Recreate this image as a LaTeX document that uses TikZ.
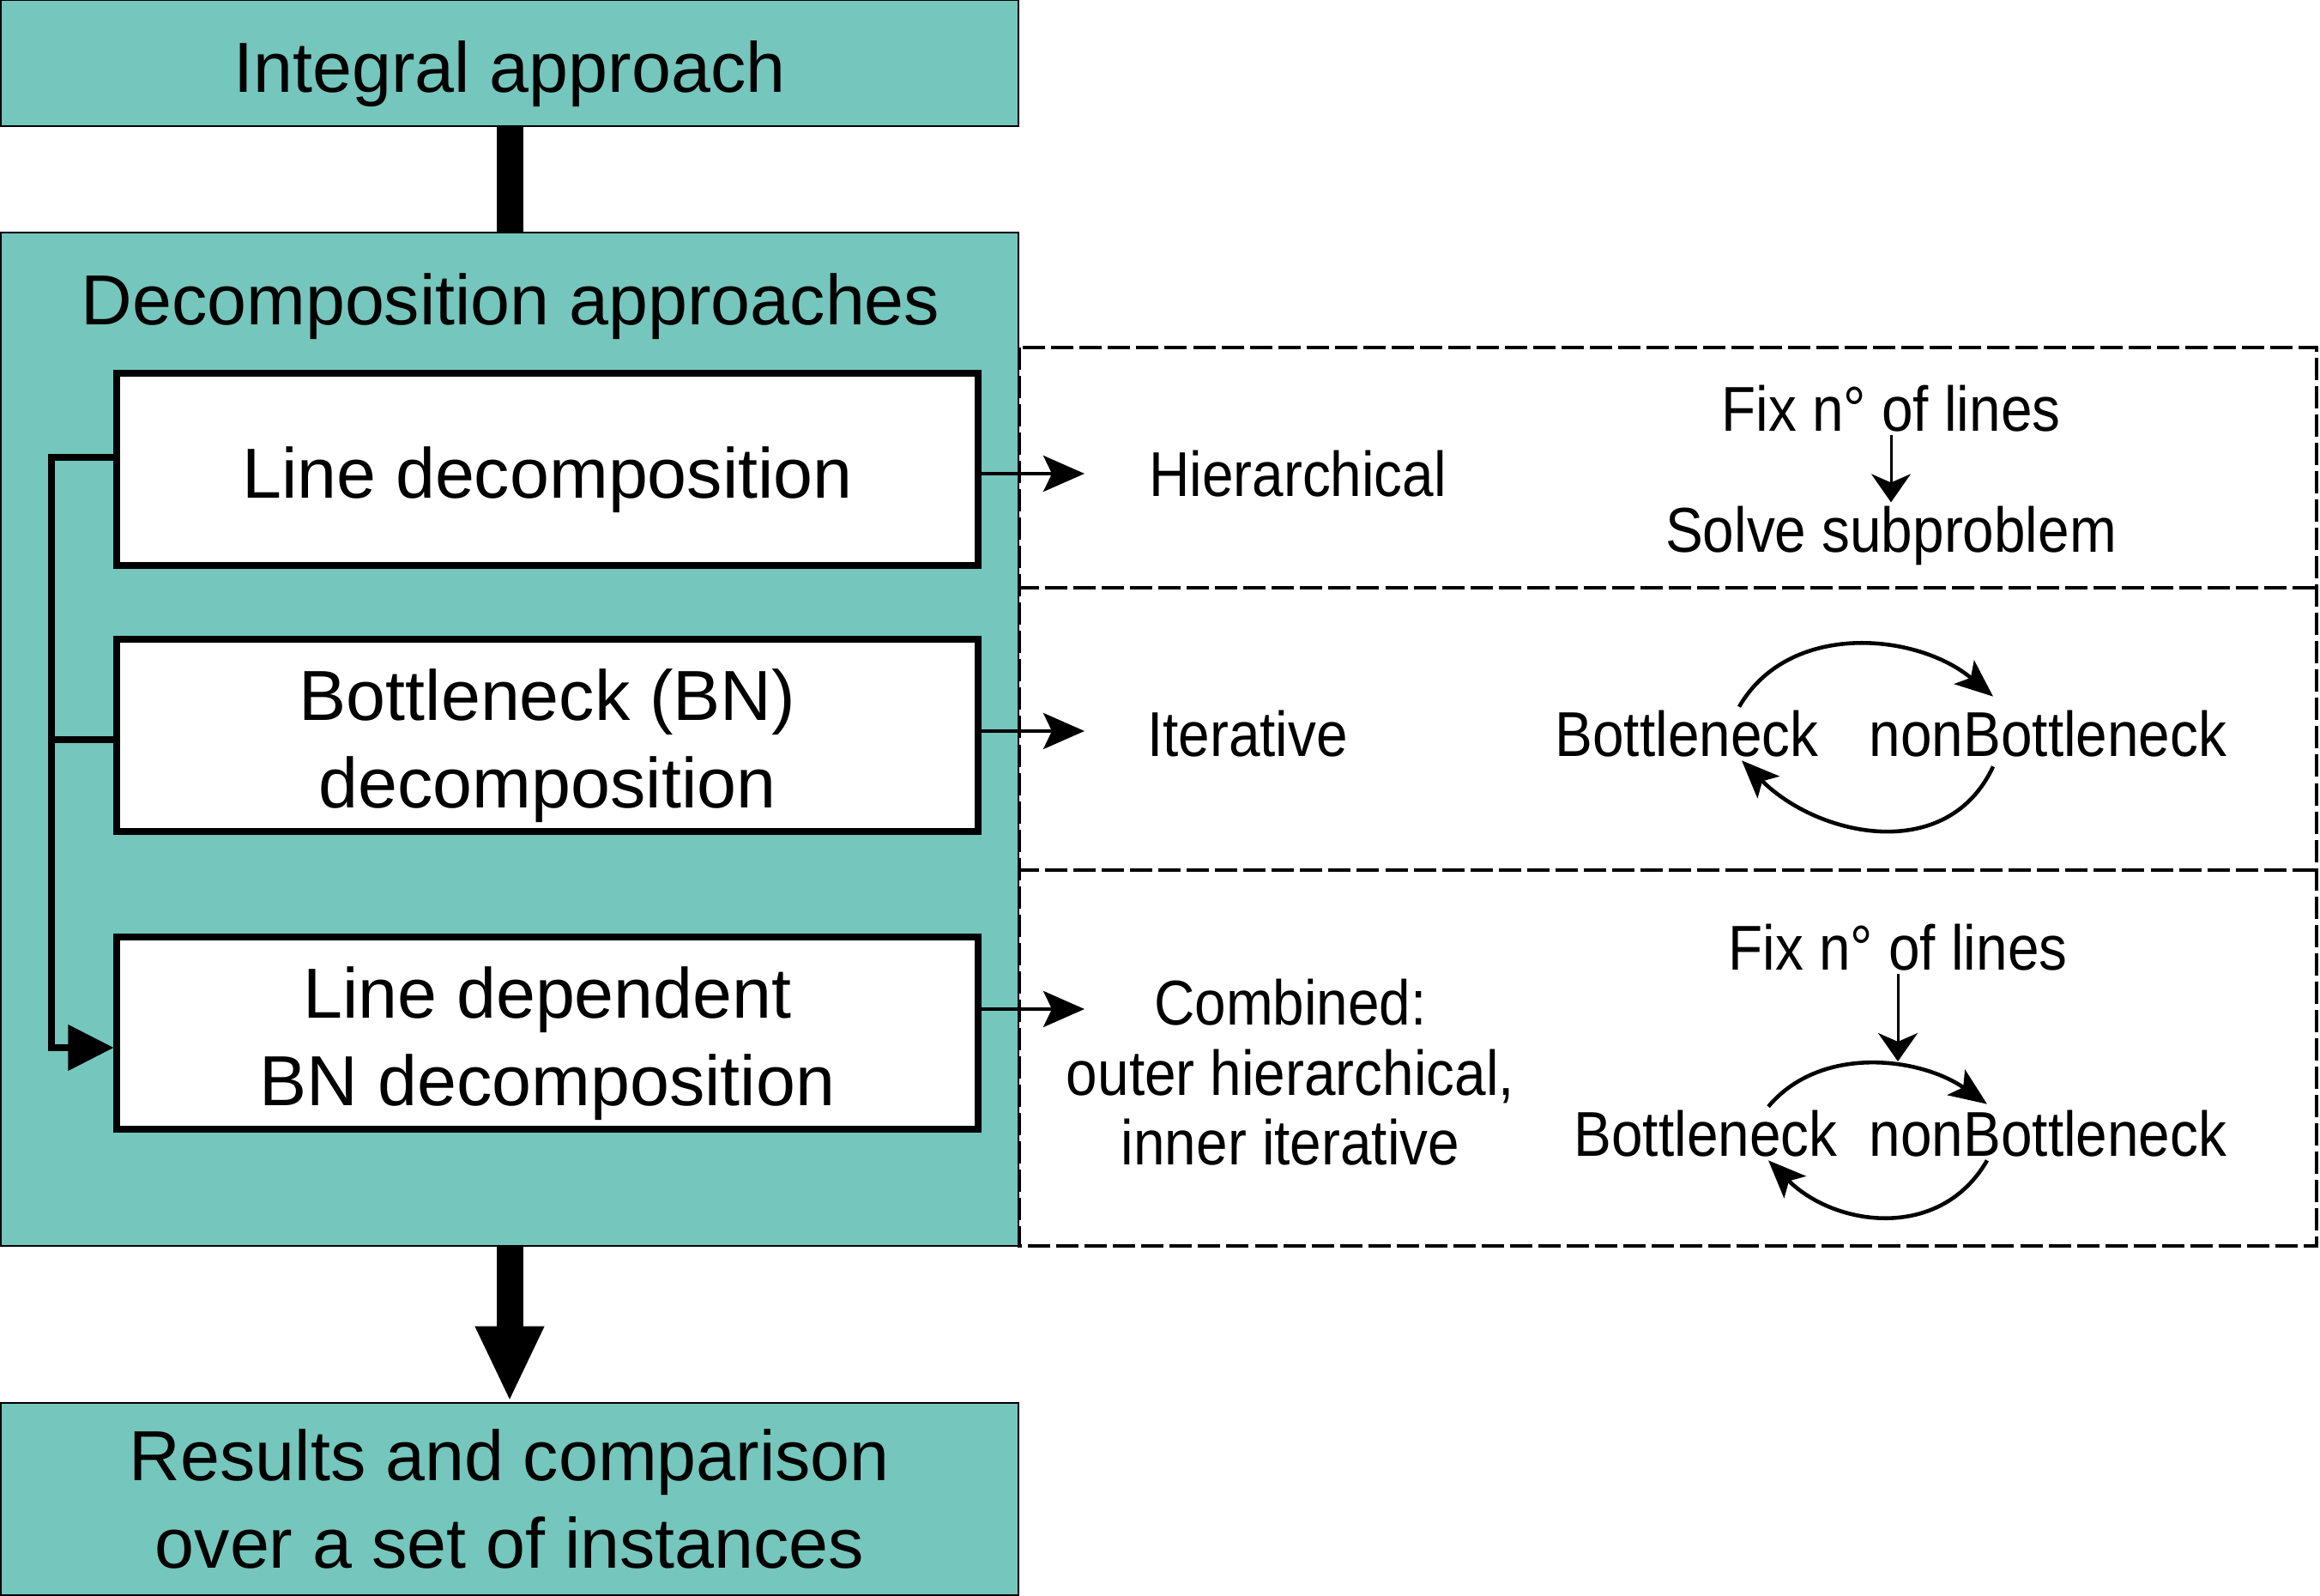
\documentclass[tikz,border=0pt]{standalone}
\usepackage{fontspec}
\setmainfont{Liberation Sans}
\newfontfamily\narrowsans[FakeStretch=0.89]{Liberation Sans}
\usepackage{xcolor}
\usetikzlibrary{arrows.meta,positioning,calc}
\definecolor{tealbox}{RGB}{117,198,189}
\newcommand{\boxstrut}{\rule{0pt}{1.02em}}

\begin{document}
\begin{tikzpicture}[
  bigfont/.style={font=\fontsize{23.5}{29}\selectfont},
  smallfont/.style={font=\narrowsans\fontsize{21}{23.2}\selectfont},
  tealnode/.style={draw=black, line width=0.8pt, fill=tealbox, minimum width=11.86cm, inner sep=0pt, align=center, bigfont},
  whitebox/.style={draw=black, line width=2pt, fill=white, minimum width=10.04cm, minimum height=2.24cm, inner sep=0pt, align=center, bigfont},
  lbl/.style={inner sep=1pt, align=center, smallfont},
  dashline/.style={dash pattern=on 7.4pt off 2pt, line width=1.1pt},
  thinarrow/.style={line width=1.1pt, -{Stealth[length=0.48cm, width=0.42cm, inset=0.1cm]}},
  fixarrow/.style={line width=0.85pt, -{Stealth[length=0.33cm, width=0.46cm, inset=0.1cm]}},
  looparrow/.style={line width=1.3pt, -{Stealth[length=0.44cm, width=0.36cm, inset=0.1cm]}},
  spineline/.style={line width=2pt},
]
\useasboundingbox (0,0) rectangle (27.04,-18.60);

% dashed frame on the right, with the two dividers
\draw[dashline] (11.88,-4.05) rectangle (27.00,-14.52);
\foreach \y in {-6.85,-10.14}{
  \draw[dashline] (11.85,\y) -- (27.00,\y);
}

% left column
\node[tealnode, minimum height=1.47cm] (ia) at (5.94,-0.735) {\boxstrut Integral approach};
\node[tealnode, minimum height=11.81cm] (dec) at (5.94,-8.615) {};
\node[bigfont, inner sep=0pt] (dectitle) at (5.95,-3.57) {Decomposition approaches};
\node[whitebox] (ld) at (6.38,-5.47) {\boxstrut Line decomposition};
\node[whitebox] (bnd) at (6.38,-8.57) {\boxstrut Bottleneck (BN)\\decomposition};
\node[whitebox] (ldb) at (6.38,-12.04) {\boxstrut Line dependent\\BN decomposition};
\node[tealnode, minimum height=2.24cm] (res) at (5.94,-17.47) {Results and comparison\\over a set of instances};

% thick connectors
\draw[line width=0.31cm] (ia.south) -- (dec.north);
\draw[line width=0.31cm, -{Triangle[length=0.88cm, width=0.74cm]}] (dec.south) -- (res.north);

% spine on the left
\coordinate (spine) at (0.60,0);
\draw[spineline] ([yshift=-0.05cm]bnd.west) -- ([yshift=-0.05cm]bnd.west -| spine);
\draw[spineline, -{Triangle[length=0.53cm, width=0.52cm]}] ([yshift=0.14cm]ld.west) -- ([yshift=0.14cm]ld.west -| spine) |- ([yshift=-0.17cm]ldb.west);

% labels of the three approaches
\coordinate (tipA) at (12.64,-5.52);
\coordinate (tipB) at (12.64,-8.52);
\coordinate (tipC) at (12.64,-11.76);
\node[lbl, anchor=west] (hier) at (13.35,-5.52) {Hierarchical};
\node[lbl, anchor=west] (iter) at (13.33,-8.55) {Iterative};
\node[lbl] (comb) at (15.04,-12.50) {Combined:\\outer hierarchical,\\inner iterative};
\draw[thinarrow] (ld.east |- tipA) -- (tipA);
\draw[thinarrow] (bnd.east |- tipB) -- (tipB);
\draw[thinarrow] (ldb.east |- tipC) -- (tipC);

% row 1: hierarchical
\node[lbl] (fixA) at (22.04,-4.76) {Fix n° of lines};
\node[lbl] (solveA) at (22.04,-6.24) {Solve subproblem};
\draw[fixarrow] (fixA.south) -- (solveA.north);

% row 2: iterative
\node[lbl] (bnA) at (19.66,-8.55) {Bottleneck};
\node[lbl] (nbA) at (23.87,-8.55) {nonBottleneck};
\draw[looparrow] ([xshift=0.61cm]bnA.north) to[out=60,in=140] ([xshift=-0.64cm,yshift=0.12cm]nbA.north);
\draw[looparrow] ([xshift=-0.64cm,yshift=-0.07cm]nbA.south) to[out=-115,in=-45,looseness=1.1] ([xshift=0.64cm]bnA.south);

% row 3: combined
\node[lbl] (fixB) at (22.12,-11.04) {Fix n° of lines};
\coordinate (fixtipB) at (22.12,-12.37);
\draw[fixarrow] (fixB.south) -- (fixtipB);
\node[lbl] (bnB) at (19.88,-13.21) {Bottleneck};
\node[lbl] (nbB) at (23.87,-13.21) {nonBottleneck};
\draw[looparrow] ([xshift=0.73cm]bnB.north) to[out=50,in=145,looseness=0.95] ([xshift=-0.71cm,yshift=0.03cm]nbB.north);
\draw[looparrow] ([xshift=-0.71cm]nbB.south) to[out=-120,in=-45,looseness=1.1] ([xshift=0.73cm]bnB.south);
\end{tikzpicture}
\end{document}
